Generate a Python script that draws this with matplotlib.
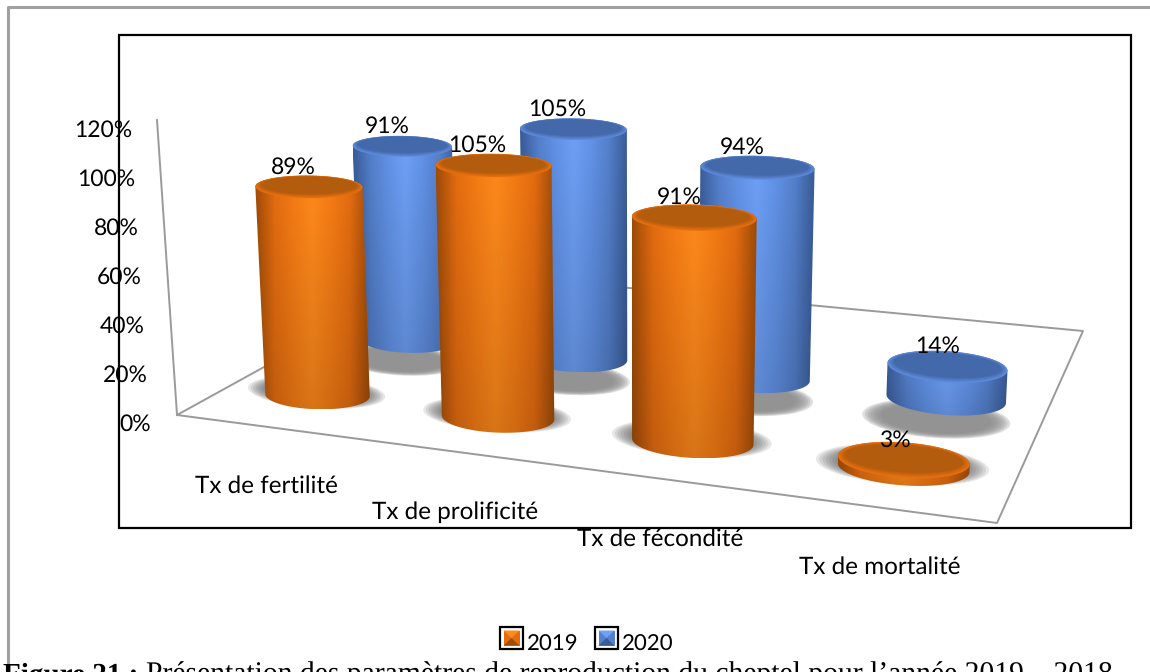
import numpy as np
import matplotlib
matplotlib.use("Agg")
import matplotlib.pyplot as plt
from matplotlib.colors import LinearSegmentedColormap, to_rgb
from matplotlib.patches import Ellipse, PathPatch, Polygon, Rectangle
from matplotlib.path import Path


CATEGORIES = ["Tx de fertilité", "Tx de prolificité", "Tx de fécondité", "Tx de mortalité"]
SERIES = ["2019", "2020"]
VALUES_2019 = [89, 105, 91, 3]
VALUES_2020 = [91, 105, 94, 14]
Y_TICKS = [0, 20, 40, 60, 80, 100, 120]
CAPTION_BOLD = "Figure 21 :"
CAPTION = "Présentation des paramètres de reproduction du cheptel pour l’année 2019 – 2018"

# floor of the 3d box in pixels: front-left, front-right, back-right, back-left
FLOOR = [(177, 415), (997, 523), (1083, 331), (440, 270)]
DEPTH = [0.17, 0.515]
HEIGHT_SCALE = [2.4, 2.18]
CAT_LABEL_POS = [(266, 486), (455, 512), (660, 539), (880, 567)]

STYLE = {
    "2019": {
        "body": ["#A04C08", "#E46C10", "#F57C14", "#FF8A1C", "#F57C14", "#E46C10", "#A04C08"],
        "top": "#B45C0D", "rim": "#E8700F", "shadow": "#555555",
        "shadow_off": (-1, -3), "shadow_scale": (1.22, 1.05), "shadow_alpha": 0.14,
    },
    "2020": {
        "body": ["#3A5C98", "#5480CC", "#6293E8", "#6FA1F8", "#6293E8", "#5480CC", "#3A5C98"],
        "top": "#4369AA", "rim": "#5E8BDC", "shadow": "#8A8A8A",
        "shadow_off": (-10, 20), "shadow_scale": (1.15, 1.1), "shadow_alpha": 0.26,
    },
}


def make_homography(corners):
    # unit square -> floor quad
    src = [(0, 0), (1, 0), (1, 1), (0, 1)]
    rows, rhs = [], []
    for (u, v), (x, y) in zip(src, corners):
        rows.append([u, v, 1, 0, 0, 0, -u * x, -v * x])
        rows.append([0, 0, 0, u, v, 1, -u * y, -v * y])
        rhs += [x, y]
    return np.append(np.linalg.solve(np.array(rows, float), np.array(rhs, float)), 1).reshape(3, 3)


H = make_homography(FLOOR)


def floor_point(u, v):
    p = H @ np.array([u, v, 1.0])
    return p[0] / p[2], p[1] / p[2]


def project(cat, s, value):
    u = (cat + 0.5) / len(CATEGORIES)
    v = DEPTH[s]
    bx, by = floor_point(u, v)
    x0, _ = floor_point(u - 0.125, v)
    x1, _ = floor_point(u + 0.125, v)
    width = x1 - x0
    a = 0.3 * width
    b = a * 0.27
    h = value * HEIGHT_SCALE[s] * (1 + 0.025 * (cat - 1))
    tx = bx + (bx - 640) * 0.03 * value / 100
    ty = by - h
    # ellipses lean more towards the right of the box, and less higher up
    tilt = 0.02 + (bx - 300) * 0.00008
    return {
        "bx": bx, "by": by, "a": a, "b": b, "tilt": tilt,
        "tx": tx, "ty": ty, "ta": a * (1 + 0.03 * value / 100), "tb": b * (1 - 0.22 * value / 100),
        "ttilt": tilt * (1 - 0.6 * value / 100),
    }


def arc(cx, cy, a, b, t0, t1, tilt, n=40):
    t = np.linspace(t0, t1, n)
    return np.column_stack([cx + a * np.cos(t), cy + b * np.sin(t) + tilt * a * np.cos(t)])


def tilted_ellipse(ax, cx, cy, a, b, tilt, color, zorder):
    ax.add_patch(Polygon(arc(cx, cy, a, b, 0, 2 * np.pi, tilt), closed=True, fc=color, ec="none", zorder=zorder))


def draw_shadow(ax, g, style, zorder):
    dx, dy = style["shadow_off"]
    sx, sy = style["shadow_scale"]
    for k in np.linspace(1.08, 0.8, 8):
        ax.add_patch(Ellipse((g["bx"] + dx, g["by"] + dy), 2 * g["a"] * sx * k, 2 * g["b"] * sy * k,
                             angle=4, fc=style["shadow"], ec="none", alpha=style["shadow_alpha"], zorder=zorder))


def draw_cylinder(ax, g, style, zorder):
    # body = lower half arc + sides + upper half arc, shaded with a clipped gradient
    bottom = arc(g["bx"], g["by"], g["a"], g["b"], 0, np.pi, g["tilt"])
    top = arc(g["tx"], g["ty"], g["ta"], g["tb"], np.pi, 2 * np.pi, g["ttilt"])
    outline = np.vstack([bottom, top, bottom[:1]])
    x0, x1 = outline[:, 0].min(), outline[:, 0].max()
    y0, y1 = outline[:, 1].min(), outline[:, 1].max()
    cmap = LinearSegmentedColormap.from_list("body", style["body"])
    across = cmap(np.linspace(0, 1, 120))[:, :3]
    fade = np.linspace(1.0, 0.85, 60)[:, None, None]
    img = across[None, :, :] * fade
    im = ax.imshow(img, extent=(x0, x1, y1, y0), origin="upper", aspect="auto", zorder=zorder, interpolation="bilinear")
    clip = PathPatch(Path(outline), transform=ax.transData, fc="none", ec="none")
    ax.add_patch(clip)
    im.set_clip_path(clip)
    # soft bevel from rim colour into the darker cap
    rim, cap = np.array(to_rgb(style["rim"])), np.array(to_rgb(style["top"]))
    for n, f in enumerate(np.linspace(0, 1, 6)):
        scale = 1 - 0.1 * f
        tilted_ellipse(ax, g["tx"], g["ty"] - 1.5 * f, g["ta"] * scale, g["tb"] * (1 - 0.22 * f), g["ttilt"],
                       tuple(rim * (1 - f) + cap * f), zorder + 0.1 + n * 0.01)


def draw_swatch(ax, x, y, w, h, style):
    ax.add_patch(Rectangle((x, y), w, h, fc="white", ec="black", lw=1.6, zorder=6))
    i = 3.5
    x0, x1, y0, y1 = x + i, x + w - i, y + i, y + h - i
    xm, ym = (x0 + x1) / 2, (y0 + y1) / 2
    body = style["body"]
    ax.add_patch(Rectangle((x0, y0), x1 - x0, y1 - y0, fc=body[1], ec="none", zorder=6.1))
    ax.add_patch(Polygon([(x0, y0), (x1, y0), (xm, ym)], fc=body[3], ec="none", zorder=6.2))
    ax.add_patch(Polygon([(x0, y1), (x1, y1), (xm, ym)], fc=body[0], ec="none", zorder=6.2))


def main():
    plt.rcParams["font.family"] = ["Lato", "DejaVu Sans"]
    plt.rcParams["text.hinting"] = "none"
    fig = plt.figure(figsize=(11.5, 6.72), dpi=100)
    ax = fig.add_axes([0, 0, 1, 1])
    ax.set_xlim(0, 1150)
    ax.set_ylim(672, 0)
    ax.set_autoscale_on(False)
    ax.axis("off")

    # outer frame (only top and left are visible) and chart box
    ax.plot([7.5, 7.5, 1150], [665, 7, 7], color="#A0A0A0", lw=2.2, zorder=1)
    ax.add_patch(Rectangle((119, 35), 1012, 493, fc="none", ec="black", lw=1.6, zorder=1))

    # floor and value axis
    floor_x = [p[0] for p in FLOOR] + [FLOOR[0][0]]
    floor_y = [p[1] for p in FLOOR] + [FLOOR[0][1]]
    ax.plot(floor_x, floor_y, color="#9A9A9A", lw=1.4, zorder=2)
    ax.plot([FLOOR[0][0], 157], [FLOOR[0][1], 120], color="#9A9A9A", lw=1.4, zorder=2)

    for tick in Y_TICKS:
        ax.text(151 - 0.158 * tick, 424 - 2.45 * tick, f"{tick}%", ha="right", va="center", fontsize=16.5, zorder=7)

    all_values = [VALUES_2019, VALUES_2020]
    for s in (1, 0):
        for cat in range(len(CATEGORIES)):
            draw_shadow(ax, project(cat, s, all_values[s][cat]), STYLE[SERIES[s]], 3)
    for s in (1, 0):
        for cat in range(len(CATEGORIES)):
            draw_cylinder(ax, project(cat, s, all_values[s][cat]), STYLE[SERIES[s]], 5 - s)
    for s in (1, 0):
        for cat in range(len(CATEGORIES)):
            val = all_values[s][cat]
            g = project(cat, s, val)
            ax.text(g["tx"] - 9 - 7 * val / 100, g["ty"] - 20, f"{val}%", ha="center", va="center", fontsize=16.5, zorder=8)

    for name, (x, y) in zip(CATEGORIES, CAT_LABEL_POS):
        ax.text(x, y, name, ha="center", va="center", fontsize=17.5, zorder=7)

    draw_swatch(ax, 500, 627, 23, 22, STYLE["2019"])
    ax.text(527, 645, SERIES[0], ha="left", va="center", fontsize=16, zorder=7)
    draw_swatch(ax, 595, 627, 23, 22, STYLE["2020"])
    ax.text(622, 645, SERIES[1], ha="left", va="center", fontsize=16, zorder=7)

    bold = ax.text(3, 683, CAPTION_BOLD, family="Liberation Serif", weight="bold", fontsize=21, ha="left", va="baseline", zorder=9)
    fig.canvas.draw()
    end = bold.get_window_extent().x1
    ax.text(end + 8, 683, CAPTION, family="Liberation Serif", fontsize=21.3, ha="left", va="baseline", zorder=9)

    fig.savefig("out.png", dpi=100)
    plt.close(fig)


if __name__ == "__main__":
    main()
